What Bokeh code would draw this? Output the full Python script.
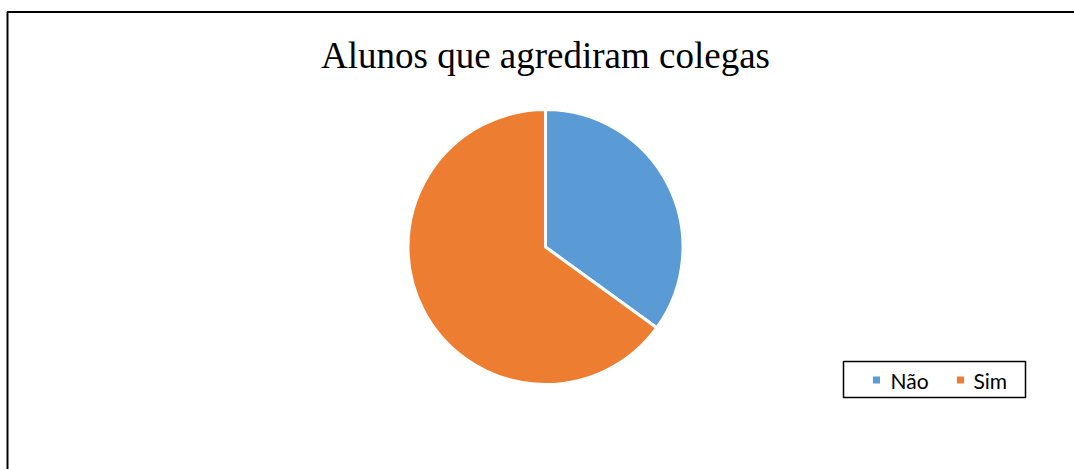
import math
from bokeh.plotting import figure
from bokeh.models import Range1d, ColumnDataSource, BoxAnnotation
from bokeh.core.properties import value
from bokeh.embed import file_html
from bokeh.resources import INLINE

# ---- data ----
title_text = "Alunos que agrediram colegas"
categories = ["Não", "Sim"]
values = [35, 65]
colors = ["#5B9BD5", "#ED7D31"]

W, H = 1074, 469
p = figure(width=W, height=H, output_backend="svg", toolbar_location=None,
           x_range=Range1d(0, W), y_range=Range1d(0, H), min_border=0)
p.axis.visible = False
p.grid.visible = False
p.outline_line_color = None
p.background_fill_color = "white"
p.border_fill_color = "white"

# chart border (left and top visible in window)
p.add_layout(BoxAnnotation(left=7, right=W + 50, top=457.5, bottom=-50,
                           fill_alpha=0, line_color="#000000", line_alpha=1,
                           line_width=2, level="underlay"))

# pie
total = float(sum(values))
cum = 0.0
starts, ends = [], []
for v in values:
    a0 = cum / total
    cum += v
    a1 = cum / total
    # clockwise from 12 o'clock -> express as anticlock wedge
    starts.append(math.pi / 2 - 2 * math.pi * a1)
    ends.append(math.pi / 2 - 2 * math.pi * a0)

src = ColumnDataSource(dict(cat=categories, val=values, color=colors,
                            start=starts, end=ends,
                            x=[545] * len(values), y=[222.5] * len(values)))
p.wedge(x="x", y="y", radius=137.5, radius_units="screen",
        start_angle="start", end_angle="end", direction="anticlock",
        fill_color="color", line_color="white", line_width=3, source=src)

# title
p.text(x=[545], y=[414.5], text=[title_text], text_align="center",
       text_baseline="alphabetic", text_font=value("Liberation Serif"),
       text_font_size="37px", text_color="#000000")

# legend box
p.add_layout(BoxAnnotation(left=843, right=1025, top=108, bottom=72,
                           fill_color="white", fill_alpha=1,
                           line_color="#000000", line_alpha=1,
                           line_width=1.5, level="underlay"))
mx = [876, 960]
tx = [890, 973]
lsrc = ColumnDataSource(dict(mx=mx, tx=tx, y=[89.5, 89.5], color=colors, cat=categories))
p.scatter(x="mx", y="y", marker="square", size=7, fill_color="color",
          line_color=None, source=lsrc)
p.text(x="tx", y="y", text="cat", text_align="left", text_baseline="middle",
       text_font=value("Lato"), text_font_size="21px",
       text_color="#000000", source=lsrc)

open("out.html", "w").write(file_html(p, INLINE))
